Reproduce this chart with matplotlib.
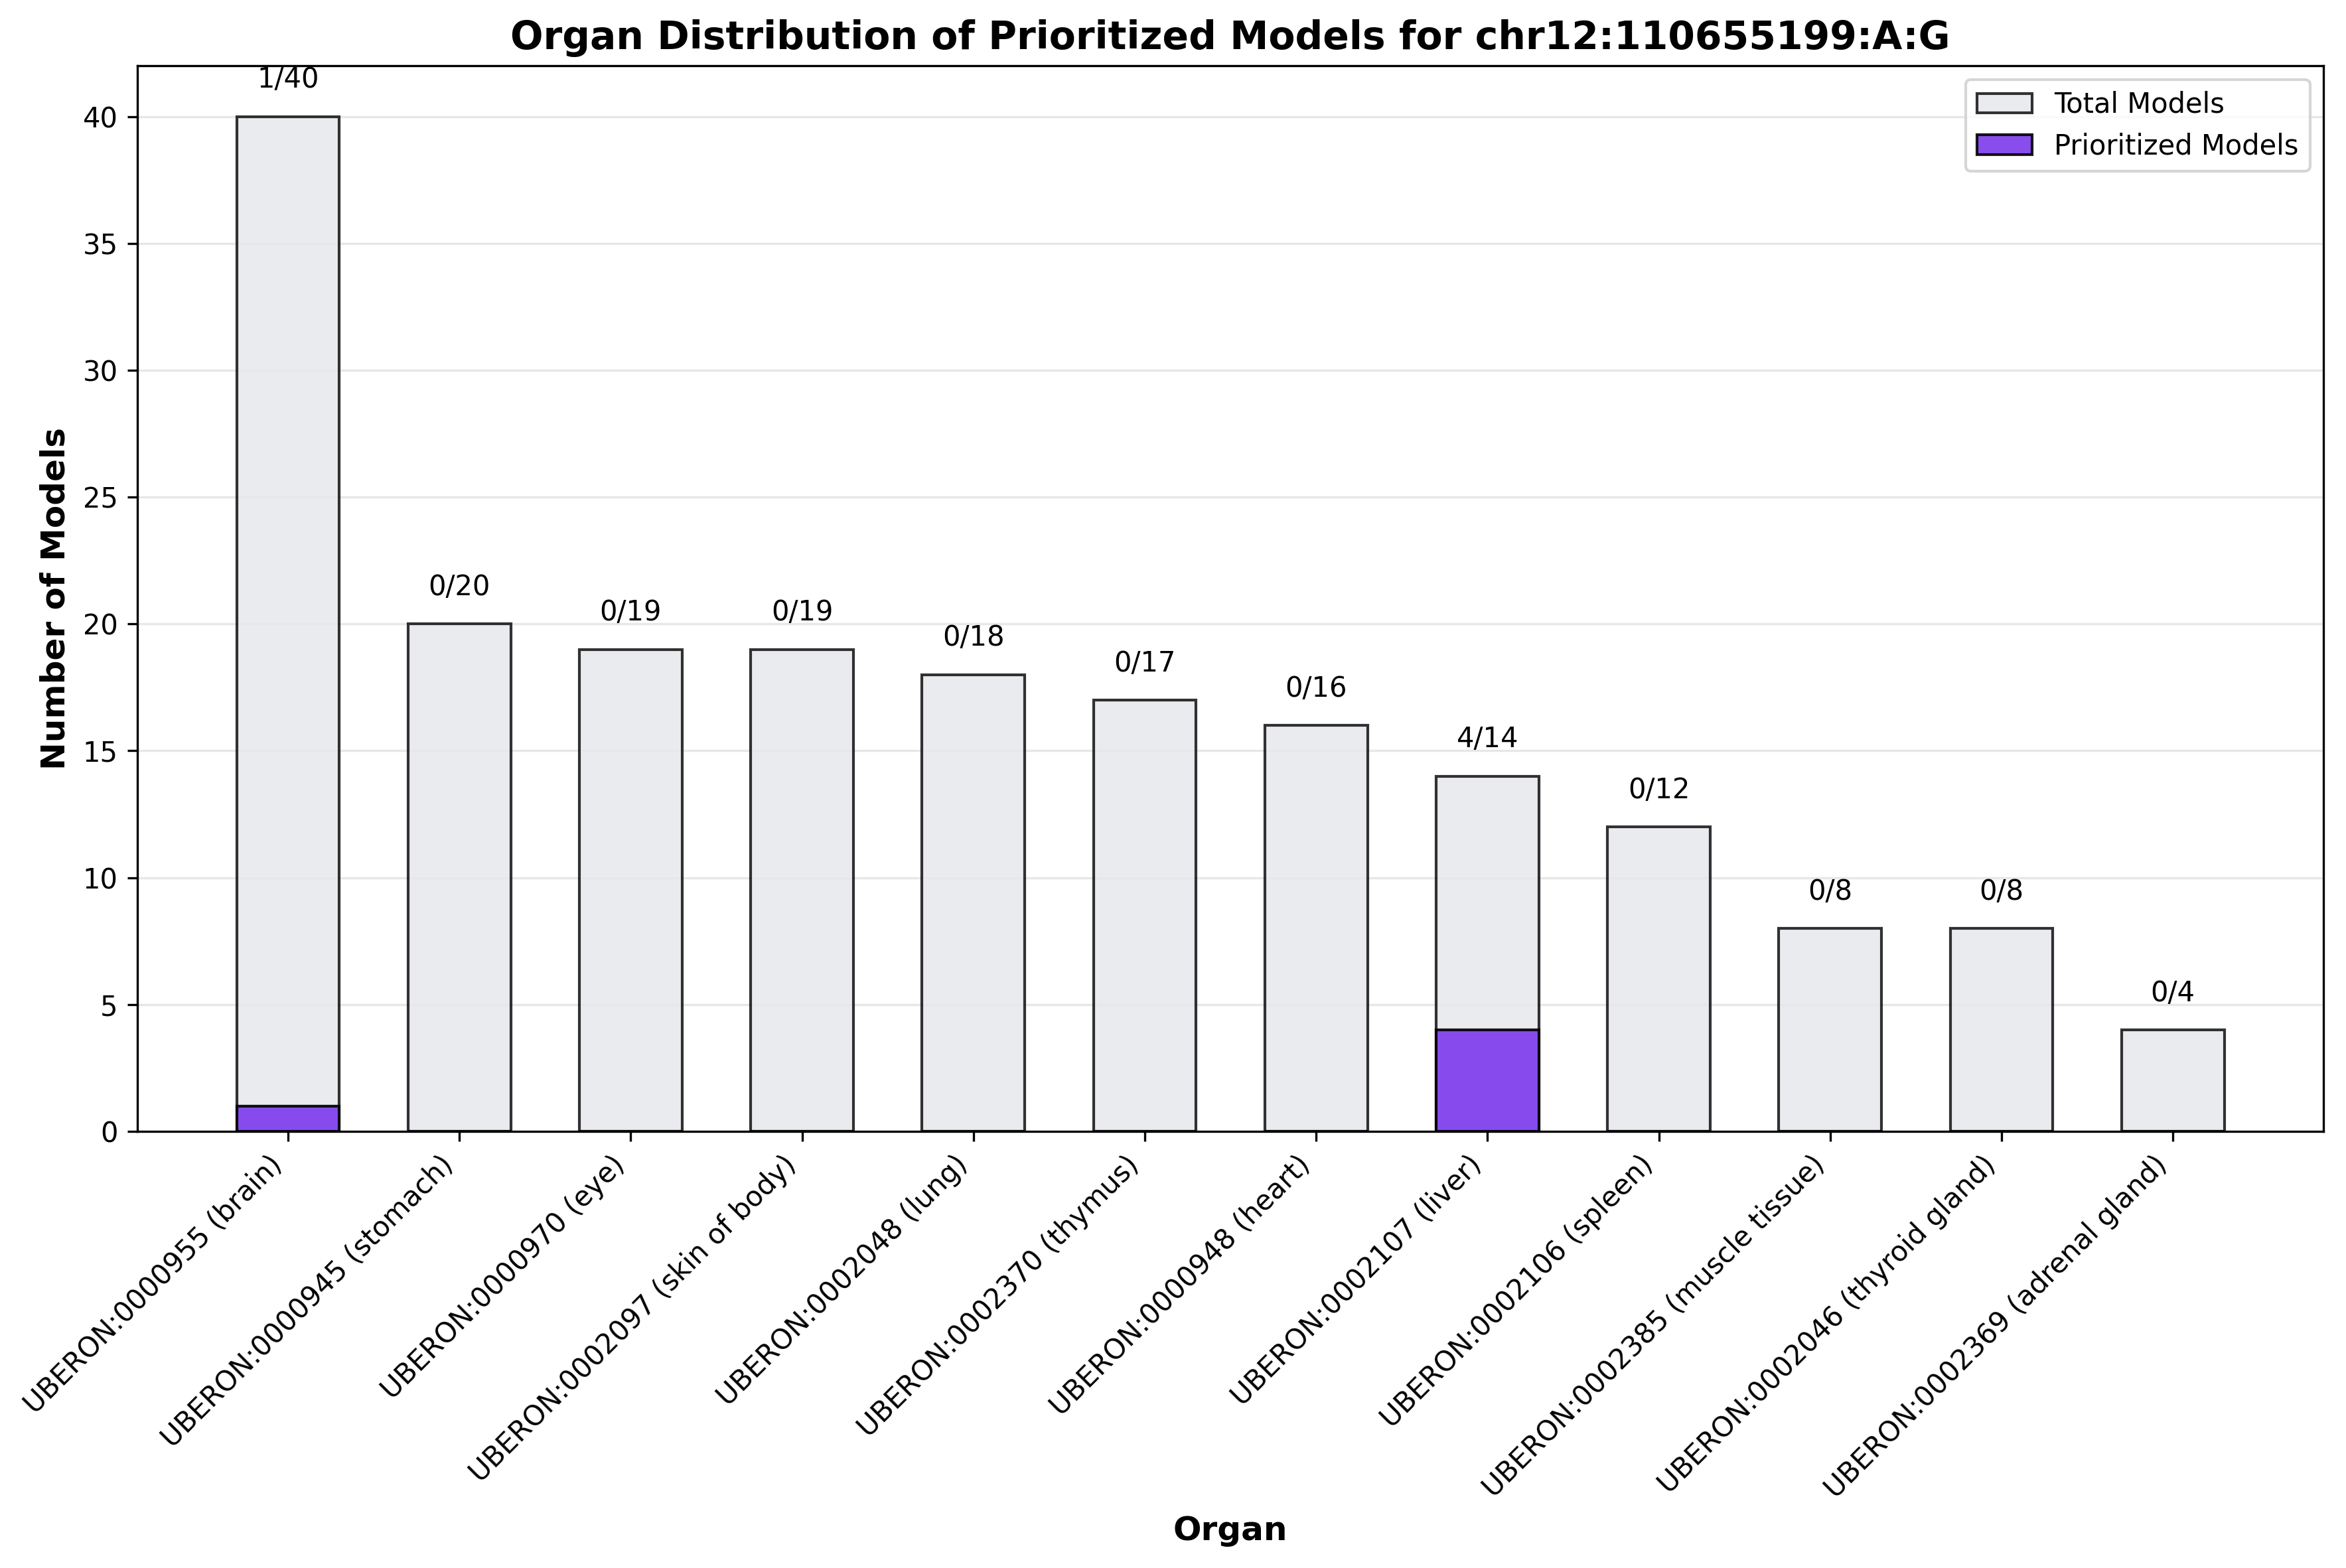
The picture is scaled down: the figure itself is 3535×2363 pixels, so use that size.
import numpy as np
import matplotlib.pyplot as plt

organs = [
    "UBERON:0000955 (brain)",
    "UBERON:0000945 (stomach)",
    "UBERON:0000970 (eye)",
    "UBERON:0002097 (skin of body)",
    "UBERON:0002048 (lung)",
    "UBERON:0002370 (thymus)",
    "UBERON:0000948 (heart)",
    "UBERON:0002107 (liver)",
    "UBERON:0002106 (spleen)",
    "UBERON:0002385 (muscle tissue)",
    "UBERON:0002046 (thyroid gland)",
    "UBERON:0002369 (adrenal gland)",
]
total_models = [40, 20, 19, 19, 18, 17, 16, 14, 12, 8, 8, 4]
prioritized_models = [1, 0, 0, 0, 0, 0, 0, 4, 0, 0, 0, 0]

dpi = 300
fig, ax = plt.subplots(figsize=(3535 / dpi, 2363 / dpi), dpi=dpi)
fig.subplots_adjust(left=0.0585, right=0.9905, top=0.958, bottom=0.2785)

x = np.arange(len(organs))
ax.bar(x, total_models, width=0.6, color='#e5e7eb', alpha=0.8,
       edgecolor='#000000', linewidth=1.0, label='Total Models')
ax.bar(x, prioritized_models, width=0.6, color='#7c3aed', alpha=0.9,
       edgecolor='#000000', linewidth=1.0, label='Prioritized Models')

# count labels above each bar
for xi, tot, pri in zip(x, total_models, prioritized_models):
    ax.text(xi, tot + 0.9, f"{pri}/{tot}", ha='center', va='bottom', fontsize=10)

ax.set_xticks(x)
ax.set_xticklabels(organs, rotation=45, ha='right', fontsize=10)
ax.set_ylim(0, 42)
ax.set_xlabel('Organ', fontsize=12, fontweight='bold')
ax.set_ylabel('Number of Models', fontsize=12, fontweight='bold')
ax.set_title('Organ Distribution of Prioritized Models for chr12:110655199:A:G',
             fontsize=14, fontweight='bold')
ax.grid(axis='y', alpha=0.3)
ax.set_axisbelow(True)
ax.legend(loc='upper right')

fig.savefig('out.png', dpi=dpi)
